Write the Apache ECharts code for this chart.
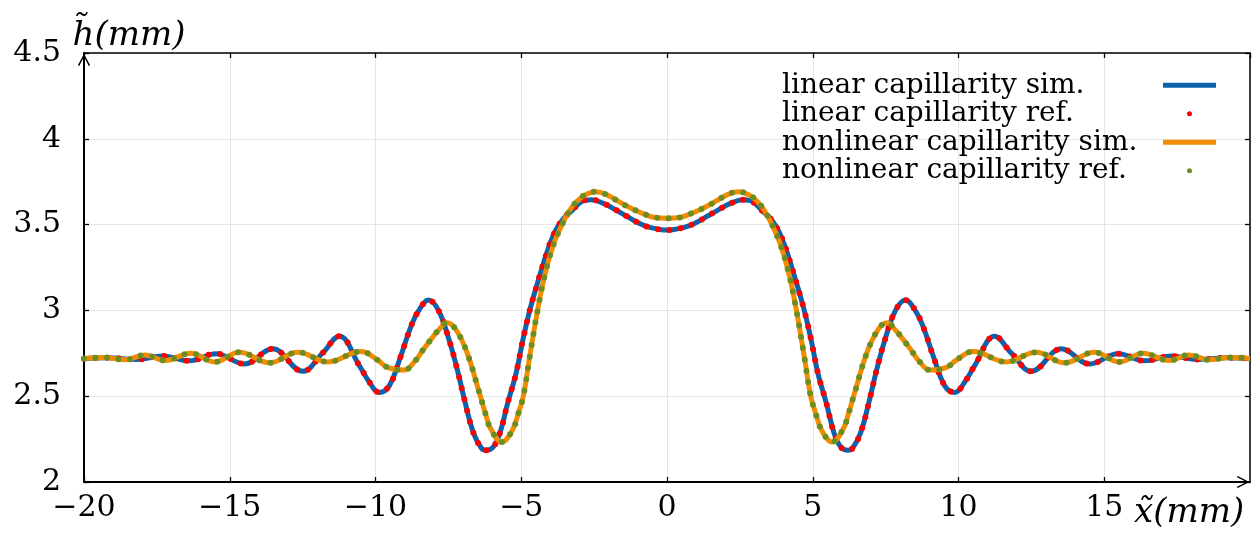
<!DOCTYPE html>
<html>
<head>
<meta charset="utf-8">
<script src="https://cdn.jsdelivr.net/npm/echarts@6/dist/echarts.min.js"></script>
<style>
  html, body { margin: 0; padding: 0; background: #fff; }
  #chart { width: 1254px; height: 533px; }
</style>
</head>
<body>
<div id="chart"></div>
<script>
var FONT = 'DejaVu Serif';
var BLUE = '#0b62ad', RED = '#ff0000', ORANGE = '#f28c00', GREEN = '#6b8e23';

var seriesNames = ['linear capillarity sim.', 'linear capillarity ref.',
                   'nonlinear capillarity sim.', 'nonlinear capillarity ref.'];

// linear capillarity, h(x)
var linearSim = [
  [-20, 2.718], [-19.2, 2.724], [-18.2, 2.714], [-17.3, 2.734], [-16.4, 2.706],
  [-15.47, 2.748], [-14.5, 2.688], [-13.53, 2.776], [-12.5, 2.645], [-11.82, 2.75],
  [-11.24, 2.85], [-10.56, 2.68], [-10.22, 2.584], [-9.87, 2.522], [-9.53, 2.56],
  [-9.14, 2.73], [-8.79, 2.904], [-8.53, 2.996], [-8.18, 3.06], [-7.84, 3.0],
  [-7.48, 2.831], [-7.19, 2.652], [-6.93, 2.467], [-6.64, 2.286], [-6.36, 2.195],
  [-6.21, 2.185], [-5.96, 2.204], [-5.73, 2.286], [-5.47, 2.457], [-5.18, 2.632],
  [-4.97, 2.807], [-4.73, 2.986], [-4.44, 3.161], [-4.13, 3.333], [-3.92, 3.43],
  [-3.74, 3.49], [-3.5, 3.545], [-3.3, 3.575], [-2.93, 3.634], [-2.6, 3.645],
  [-2.18, 3.624], [-1.79, 3.589], [-1.39, 3.55], [-0.99, 3.511], [-0.59, 3.484],
  [0, 3.468],
  [0.59, 3.484], [0.99, 3.511], [1.39, 3.55], [1.79, 3.589], [2.18, 3.624],
  [2.6, 3.645], [2.93, 3.634], [3.3, 3.575], [3.5, 3.545], [3.74, 3.49],
  [3.92, 3.43], [4.13, 3.333], [4.44, 3.161], [4.73, 2.986], [4.97, 2.807],
  [5.18, 2.632], [5.47, 2.457], [5.73, 2.286], [5.96, 2.204], [6.21, 2.185],
  [6.36, 2.195], [6.64, 2.286], [6.93, 2.467], [7.19, 2.652], [7.48, 2.831],
  [7.84, 3.0], [8.18, 3.06], [8.53, 2.996], [8.79, 2.904], [9.14, 2.73],
  [9.53, 2.56], [9.87, 2.522], [10.22, 2.584], [10.56, 2.68], [11.24, 2.85],
  [11.82, 2.75], [12.5, 2.645], [13.53, 2.776], [14.5, 2.688], [15.47, 2.748],
  [16.4, 2.706], [17.3, 2.734], [18.2, 2.714], [19.2, 2.724], [20, 2.718]
];
var linearRef = linearSim;

// nonlinear capillarity, h(x)
var nonlinearSim = [
  [-20, 2.72], [-19.3, 2.726], [-18.6, 2.712], [-17.91, 2.74], [-17.23, 2.708],
  [-16.33, 2.75], [-15.52, 2.70], [-14.66, 2.756], [-13.64, 2.695], [-12.67, 2.756],
  [-11.64, 2.70], [-10.5, 2.76], [-9.93, 2.711], [-9.59, 2.668], [-9.02, 2.652],
  [-8.64, 2.706], [-8.36, 2.772], [-8.07, 2.837], [-7.84, 2.885], [-7.55, 2.928],
  [-7.27, 2.895], [-6.87, 2.759], [-6.47, 2.539], [-6.21, 2.389], [-6.05, 2.311],
  [-5.67, 2.233], [-5.31, 2.30], [-5.10, 2.40], [-4.93, 2.5], [-4.70, 2.74],
  [-4.44, 3.0], [-4.2, 3.2], [-3.9, 3.38], [-3.6, 3.5], [-3.33, 3.585],
  [-3.10, 3.634], [-2.82, 3.673], [-2.44, 3.692], [-2.13, 3.679], [-1.79, 3.648],
  [-1.45, 3.614], [-1.11, 3.585], [-0.76, 3.56], [-0.48, 3.543], [0, 3.537],
  [0.48, 3.543], [0.76, 3.56], [1.11, 3.585], [1.45, 3.614], [1.79, 3.648],
  [2.13, 3.679], [2.44, 3.692], [2.82, 3.673], [3.10, 3.634], [3.33, 3.585],
  [3.6, 3.5], [3.9, 3.38], [4.2, 3.2], [4.44, 3.0], [4.70, 2.74],
  [4.93, 2.5], [5.10, 2.40], [5.31, 2.30], [5.67, 2.233], [6.05, 2.311],
  [6.21, 2.389], [6.47, 2.539], [6.87, 2.759], [7.27, 2.895], [7.55, 2.928],
  [7.84, 2.885], [8.07, 2.837], [8.36, 2.772], [8.64, 2.706], [9.02, 2.652],
  [9.59, 2.668], [9.93, 2.711], [10.5, 2.76], [11.64, 2.70], [12.67, 2.756],
  [13.64, 2.695], [14.66, 2.756], [15.52, 2.70], [16.33, 2.75], [17.23, 2.708],
  [17.91, 2.74], [18.6, 2.712], [19.3, 2.726], [20, 2.72]
];
var nonlinearRef = nonlinearSim;

var arrowHead = 'path://M10,0 L20,19 L18.2,21 L10,5 L1.8,21 L0,19 Z';

function minusLabel(v) {
  return String(v).replace('-', '\u2212');
}

var chart = echarts.init(document.getElementById('chart'));

var option = {
  animation: false,
  backgroundColor: '#fff',
  grid: { left: 84, right: 4, top: 53, bottom: 51, containLabel: false, outerBoundsMode: 'none' },
  legend: {
    orient: 'vertical',
    right: 33,
    top: 66,
    align: 'right',
    itemWidth: 53,
    itemHeight: 5,
    itemGap: 0,
    selectedMode: false,
    formatter: '{t|{name}}',
    textStyle: {
      fontFamily: FONT, fontSize: 28, color: '#000', lineHeight: 28.5,
      rich: { t: { width: 376, align: 'left', fontFamily: FONT, fontSize: 28, lineHeight: 28.5, color: '#000' } }
    },
    data: [
      { name: seriesNames[0], icon: 'rect' },
      { name: seriesNames[1], icon: 'circle' },
      { name: seriesNames[2], icon: 'rect' },
      { name: seriesNames[3], icon: 'circle' }
    ]
  },
  xAxis: [{
    type: 'value', min: -20, max: 20, interval: 5, position: 'bottom',
    name: 'x\u0303(mm)', nameLocation: 'end', nameGap: -116,
    nameTextStyle: { fontFamily: FONT, fontStyle: 'italic', fontSize: 34, color: '#000',
                     align: 'left', verticalAlign: 'top', lineHeight: 62 },
    axisLine: { onZero: false, lineStyle: { color: '#000', width: 2 },
                symbol: ['none', arrowHead], symbolSize: [12, 13], symbolOffset: [0, -7] },
    axisTick: { inside: true, length: 5, lineStyle: { color: '#000', width: 1.3 } },
    axisLabel: { fontFamily: FONT, fontSize: 30, color: '#000', margin: 11, showMaxLabel: false, formatter: minusLabel },
    splitLine: { show: true, lineStyle: { color: '#e6e6e6', width: 1 } }
  }, {
    type: 'value', min: -20, max: 20, interval: 5, position: 'top',
    axisLine: { onZero: false, lineStyle: { color: '#000', width: 1.5 } },
    axisTick: { inside: true, length: 5, lineStyle: { color: '#000', width: 1.3 } },
    axisLabel: { show: false },
    splitLine: { show: false }
  }],
  yAxis: [{
    type: 'value', min: 2, max: 4.5, interval: 0.5, position: 'left',
    name: 'h\u0303(mm)', nameLocation: 'end', nameGap: 0,
    nameTextStyle: { fontFamily: FONT, fontStyle: 'italic', fontSize: 34, color: '#000', align: 'center', padding: [0, 0, 0, 90] },
    axisLine: { onZero: false, lineStyle: { color: '#000', width: 2 },
                symbol: ['none', arrowHead], symbolSize: [12, 13], symbolOffset: [0, -7] },
    axisTick: { inside: true, length: 5, lineStyle: { color: '#000', width: 1.3 } },
    axisLabel: { fontFamily: FONT, fontSize: 30, color: '#000', margin: 23 },
    splitLine: { show: true, lineStyle: { color: '#e6e6e6', width: 1 } }
  }, {
    type: 'value', min: 2, max: 4.5, interval: 0.5, position: 'right',
    axisLine: { onZero: false, lineStyle: { color: '#000', width: 1.5 } },
    axisTick: { inside: true, length: 5, lineStyle: { color: '#000', width: 1.3 } },
    axisLabel: { show: false },
    splitLine: { show: false }
  }],
  series: [
    {
      name: seriesNames[0], type: 'line', data: linearSim, smooth: 0.4, symbol: 'none',
      color: BLUE, itemStyle: { color: BLUE }, lineStyle: { color: BLUE, width: 5 }, z: 2
    },
    {
      name: seriesNames[1], type: 'line', data: linearRef, smooth: 0.4, symbol: 'none',
      color: RED, itemStyle: { color: RED },
      lineStyle: { color: RED, width: 6, type: [0, 11.5], cap: 'round' }, z: 3
    },
    {
      name: seriesNames[2], type: 'line', data: nonlinearSim, smooth: 0.4, symbol: 'none',
      color: ORANGE, itemStyle: { color: ORANGE }, lineStyle: { color: ORANGE, width: 5 }, z: 4
    },
    {
      name: seriesNames[3], type: 'line', data: nonlinearRef, smooth: 0.4, symbol: 'none',
      color: GREEN, itemStyle: { color: GREEN },
      lineStyle: { color: GREEN, width: 6, type: [0, 11.5], cap: 'round' }, z: 5
    }
  ]
};

chart.setOption(option);
</script>
</body>
</html>
